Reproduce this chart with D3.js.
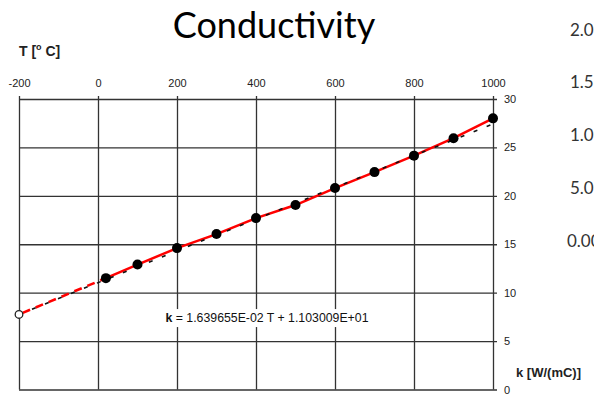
<!DOCTYPE html>
<html>
<head>
<meta charset="utf-8">
<script src="https://cdn.jsdelivr.net/npm/d3@7"></script>
<style>
  body { margin: 0; background: #fff; }
  svg { display: block; }
</style>
</head>
<body>
<div id="chart"></div>
<script>
// Messwerte: Temperatur T und Leitfähigkeit k
const temps = [20, 100, 200, 300, 400, 500, 600, 700, 800, 900, 1000];
const kValues = [11.5, 12.9, 14.6, 16.05, 17.7, 19.05, 20.8, 22.45, 24.15, 25.95, 28.0];
const xTicks = [-200, 0, 200, 400, 600, 800, 1000];
const yTicks = [0, 5, 10, 15, 20, 25, 30];
const fitSlope = 1.639655e-02;
const fitIntercept = 1.103009e+01;
const sideLabels = ["2.0", "1.5", "1.0", "5.0", "0.00"];

const width = 594, height = 395;
const margin = { top: 99, right: 101, bottom: 5.5, left: 19 };
const innerWidth = width - margin.left - margin.right;
const innerHeight = height - margin.top - margin.bottom;

const svg = d3.select("#chart").append("svg")
  .attr("width", width).attr("height", height)
  .attr("viewBox", [0, 0, width, height]);

const xScale = d3.scaleLinear().domain([-200, 1000]).range([0, innerWidth]);
const yScale = d3.scaleLinear().domain([0, 30]).range([innerHeight, 0]);

// Titel
svg.append("text")
  .attr("x", 274).attr("y", 38)
  .attr("text-anchor", "middle")
  .attr("font-family", "Lato, 'Open Sans', sans-serif")
  .attr("font-size", 36)
  .attr("fill", "#000")
  .text("Conductivity");

// Reste eines Nachbar-Diagramms am rechten Rand
svg.append("g").selectAll("text")
  .data(sideLabels)
  .join("text")
  .attr("x", (d, i) => i === 4 ? 567 : 570)
  .attr("y", (d, i) => [36, 88, 141, 194, 247][i])
  .attr("font-family", "Lato, 'Open Sans', sans-serif")
  .attr("font-size", 17)
  .attr("fill", "#333")
  .text(d => d);

const g = svg.append("g").attr("transform", `translate(${margin.left}, ${margin.top})`);

// Gitter über die Achsen
const topAxis = d3.axisTop(xScale)
  .tickValues(xTicks)
  .tickFormat(d => String(d))
  .tickSize(-innerHeight - 3)
  .tickSizeOuter(0)
  .tickPadding(9);
const xAxisG = g.append("g").attr("transform", "translate(0,-3)").call(topAxis);
xAxisG.select(".domain").remove();
xAxisG.selectAll("line").attr("stroke", "#333").attr("stroke-width", 1.3);
xAxisG.selectAll("text")
  .attr("font-family", "Arial, 'Liberation Sans', sans-serif")
  .attr("font-size", 11).attr("fill", "#222");

const rightAxis = d3.axisRight(yScale)
  .tickValues(yTicks)
  .tickFormat(d => String(d))
  .tickSize(-innerWidth)
  .tickSizeOuter(0)
  .tickPadding(5);
const yAxisG = g.append("g").attr("transform", `translate(${innerWidth + 4},0)`).call(rightAxis);
yAxisG.select(".domain").remove();
yAxisG.selectAll("line").attr("x2", -innerWidth - 4).attr("stroke", "#333").attr("stroke-width", 1.3);
yAxisG.selectAll("text")
  .attr("x", 7)
  .attr("font-family", "Arial, 'Liberation Sans', sans-serif")
  .attr("font-size", 11).attr("fill", "#222");

// Gleichung mit weißem Hintergrund
const eqX = xScale(400) + 11, eqY = yScale(7.3);
const eq = g.append("text")
  .attr("x", eqX).attr("y", eqY)
  .attr("text-anchor", "middle")
  .attr("dominant-baseline", "middle")
  .attr("font-family", "Arial, 'Liberation Sans', sans-serif")
  .attr("font-size", 12.3).attr("fill", "#111");
eq.append("tspan").attr("font-weight", "bold").text("k");
eq.append("tspan").text(` = ${fitSlope.toExponential(6).replace("e-2", "E-02")} T + ${fitIntercept.toExponential(6).replace("e+1", "E+01")}`);
const bb = eq.node().getBBox();
g.insert("rect", () => eq.node())
  .attr("x", bb.x - 3).attr("y", bb.y - 2)
  .attr("width", bb.width + 6).attr("height", bb.height + 4)
  .attr("fill", "#fff");

// Extrapolation (rot gestrichelt) bis zum ersten Messpunkt
const line = d3.line().x(d => xScale(d[0])).y(d => yScale(d[1]));
const fitAt = t => fitSlope * t + fitIntercept;

g.append("path")
  .datum([[-200, fitAt(-200)], [temps[0], kValues[0]]])
  .attr("d", line)
  .attr("fill", "none").attr("stroke", "#f00").attr("stroke-width", 2.6)
  .attr("stroke-dasharray", "8,6")
  .attr("stroke-dashoffset", -4);

// Messkurve rot
g.append("path")
  .datum(temps.map((t, i) => [t, kValues[i]]))
  .attr("d", line)
  .attr("fill", "none").attr("stroke", "#f00").attr("stroke-width", 2.5);

// Regressionsgerade schwarz gestrichelt
g.append("path")
  .datum([[-200, fitAt(-200)], [1000, fitAt(1000)]])
  .attr("d", line)
  .attr("fill", "none").attr("stroke", "#111").attr("stroke-width", 1.6)
  .attr("stroke-dasharray", "4,10")
  .attr("stroke-dashoffset", 0);

// Punkte
g.append("g").selectAll("circle")
  .data(temps)
  .join("circle")
  .attr("cx", d => xScale(d))
  .attr("cy", (d, i) => yScale(kValues[i]))
  .attr("r", 5)
  .attr("fill", "#000");

g.append("circle")
  .attr("cx", xScale(-200)).attr("cy", yScale(fitAt(-200)))
  .attr("r", 3.8)
  .attr("fill", "#fff").attr("stroke", "#222").attr("stroke-width", 1.3);

// Achsenbeschriftungen
const tLabel = svg.append("text")
  .attr("x", 19).attr("y", 56)
  .attr("font-family", "Arial, 'Liberation Sans', sans-serif")
  .attr("font-size", 14).attr("font-weight", "bold").attr("fill", "#222");
tLabel.append("tspan").text("T [");
tLabel.append("tspan").attr("font-size", 9).attr("dy", -6).text("o");
tLabel.append("tspan").attr("dy", 6).text(" C]");

svg.append("text")
  .attr("x", 516).attr("y", 377)
  .attr("font-family", "Arial, 'Liberation Sans', sans-serif")
  .attr("font-size", 13).attr("font-weight", "bold").attr("fill", "#222")
  .text("k [W/(mC)]");
</script>
</body>
</html>
